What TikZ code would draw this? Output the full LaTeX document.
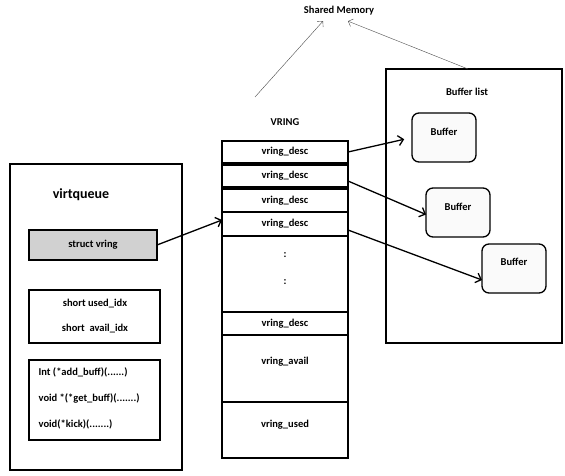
\documentclass[tikz,border=0pt]{standalone}
\usepackage{fontspec}
\setmainfont{Carlito}
\usetikzlibrary{positioning}
\usetikzlibrary{arrows.meta}

\begin{document}
\begin{tikzpicture}[x=1pt, y=-1pt, >={Straight Barb[length=5pt,width=10pt]}, semithick, font=\fontsize{10.5}{12}\selectfont\bfseries]
    \tikzstyle{frame}=[draw=black, line width=1.3pt, outer sep=0pt, inner sep=0pt, anchor=north west]
    \tikzstyle{cell}=[frame, minimum width=126pt, minimum height=22pt]
    \tikzstyle{buffer}=[frame, rounded corners=7pt, fill=gray!4, minimum width=64pt, minimum height=49pt]
    \tikzstyle{link}=[->, line width=1.3pt]
    \tikzstyle{shared}=[-{Straight Barb[length=4pt,width=8pt]}, thin, draw=black!70]
    \useasboundingbox (0,0) rectangle (565,476);

    % left: virtqueue
    \node[frame, minimum width=172pt, minimum height=306pt] (vq) at (10,164) {};
    \node[font=\fontsize{14}{16}\selectfont\bfseries] (vqtitle) at (81,195) {virtqueue};
    \node[frame, fill=black!18, minimum width=128pt, minimum height=30pt] (svring) at (29,230) {struct vring};
    \node[frame, minimum width=131pt, minimum height=53pt] (idx) at (29,290) {};
    \node (used) at (95,304) {short used\_idx};
    \node (avail) at (95,329) {short\ \ avail\_idx};
    \node[frame, minimum width=131pt, minimum height=80pt] (ops) at (29,360) {};
    \node[anchor=west] (add) at (35,372) {Int (*add\_buff)(......)};
    \node[anchor=west] (get) at (35,398) {void *(*get\_buff)(.......)};
    \node[anchor=west] (kick) at (35,424) {void(*kick)(.......)};

    % middle: the ring
    \node (vringtitle) at (285,122) {VRING};
    \node[cell] (row1) at (222,141) {vring\_desc};
    \node[cell] (row2) [below=2pt of row1] {vring\_desc};
    \node[cell, minimum height=23pt] (row3) [below=2pt of row2] {vring\_desc};
    \node[cell, minimum height=24pt] (row4) [below=0pt of row3] {vring\_desc};
    \node[cell, minimum height=76pt] (dots) [below=0pt of row4] {};
    \node (dot1) at (285,255) {:};
    \node (dot2) at (285,282) {:};
    \node[cell, minimum height=23pt] (row5) [below=0pt of dots] {vring\_desc};
    \node[cell, minimum height=67pt] (ravail) [below=0pt of row5] {};
    \node (ravailtext) [below=18pt of ravail.north] {vring\_avail};
    \node[cell, minimum height=56pt] (rused) [below=0pt of ravail] {};
    \node (rusedtext) [below=14pt of rused.north] {vring\_used};

    % right: buffers
    \node[frame, minimum width=176pt, minimum height=274pt] (buflist) at (386,69) {};
    \node (buflisttitle) at (467,92) {Buffer list};
    \node[buffer] (buf1) at (412,113) {};
    \node (buf1text) at (444,132) {Buffer};
    \node[buffer] (buf2) at (426,188) {};
    \node (buf2text) at (458,207) {Buffer};
    \node[buffer] (buf3) at (482,244) {};
    \node (buf3text) at (514,262) {Buffer};

    % top
    \node (shm) at (339,11) {Shared Memory};
    \coordinate (ringup) at (255,97);

    \path
    (svring.east)
      edge[link]  ([yshift=4pt]row4.west)
    (row1.east)
      edge[link, shorten >=8pt]  (buf1.west)
    ([yshift=-5pt]row2.east)
      edge[link]  ([yshift=-2pt]buf2.west)
    ([yshift=-6pt]row4.east)
      edge[link]  ([yshift=13pt]buf3.south west)
    (ringup)
      edge[shared]  ([xshift=-16pt, yshift=-2pt]shm.south)
    ([xshift=-6pt]buflist.north)
      edge[shared]  ([xshift=9pt, yshift=-2pt]shm.south);
\end{tikzpicture}
\end{document}
